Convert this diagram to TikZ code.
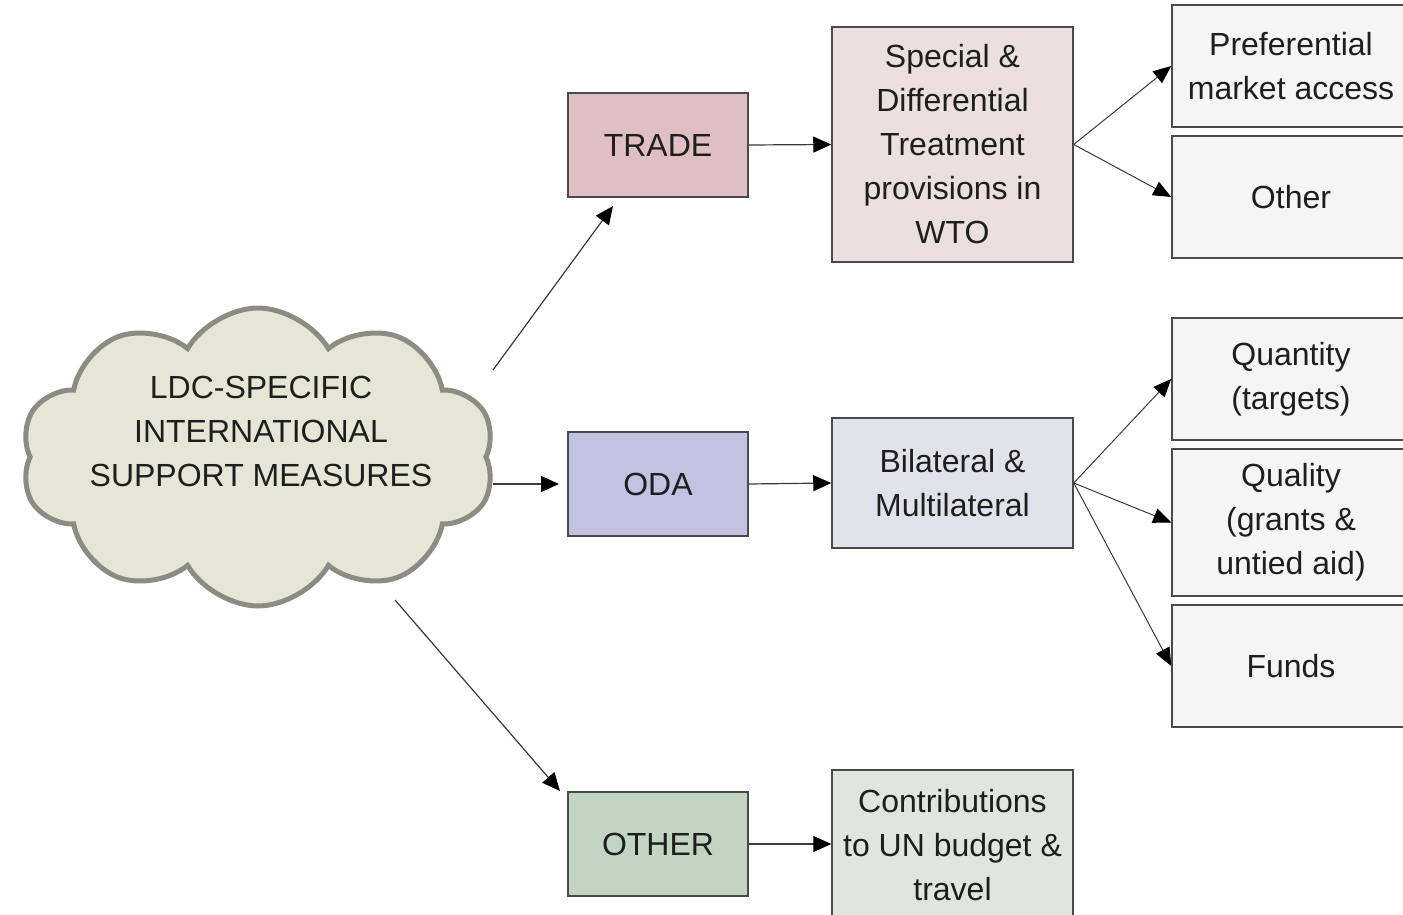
\documentclass[tikz,border=0pt]{standalone}
\usepackage{fontspec}
\setmainfont{Liberation Sans}
\usetikzlibrary{arrows.meta,shapes.symbols}
\definecolor{tradeF}{HTML}{E0BFC2}
\definecolor{sdF}{HTML}{EBDFDF}
\definecolor{odaF}{HTML}{C2C2E2}
\definecolor{bilF}{HTML}{E2E2EC}
\definecolor{othF}{HTML}{C2D5C3}
\definecolor{conF}{HTML}{E0E5DF}
\definecolor{leafF}{HTML}{F5F5F5}
\definecolor{cloudF}{HTML}{E5E6D5}
\definecolor{cloudD}{HTML}{8C8C84}
\definecolor{edgeD}{HTML}{4A4A4A}
\definecolor{lineD}{HTML}{3A3A3A}
\definecolor{txt}{HTML}{1E1E1E}
\begin{document}
\begin{tikzpicture}[x=1pt,y=-1pt,
  box/.style={draw=edgeD,line width=1.5pt,rectangle,inner sep=0pt,align=center,
    text=txt,font=\fontsize{32}{44}\selectfont},
  conn/.style={draw=lineD,line width=1.2pt,-{Triangle[length=18pt,width=16pt,color=black]}},
  fork/.style={draw=lineD,line width=1pt,-{Triangle[length=18pt,width=15pt,color=black]}}]
\useasboundingbox (0,0) rectangle (1403,915);
\fill[white] (0,0) rectangle (1403,915);
% cloud
\node[cloud,cloud puffs=10,cloud puff arc=120,aspect=1.58,draw=cloudD,fill=cloudF,
  line width=5pt,minimum width=474pt,minimum height=298pt,inner sep=0pt] (cloud) at (258,457) {};
\node[align=center,text=txt,font=\fontsize{32}{44}\selectfont] (cloudtxt) at (261,431)
  {LDC-SPECIFIC\\INTERNATIONAL\\SUPPORT MEASURES};
% level 1
\node[box,fill=tradeF,minimum width=180pt,minimum height=104pt] (trade) at (658,145) {TRADE};
\node[box,fill=odaF,minimum width=180pt,minimum height=104pt] (oda) at (658,484) {ODA};
\node[box,fill=othF,minimum width=180pt,minimum height=104pt] (other) at (658,844) {OTHER};
% level 2
\node[box,fill=sdF,minimum width=241pt,minimum height=235pt] (sd) at (952.5,144.5)
  {Special \&\\Differential\\Treatment\\provisions in\\WTO};
\node[box,fill=bilF,minimum width=241pt,minimum height=130pt] (bil) at (952.5,483)
  {Bilateral \&\\Multilateral};
\node[box,fill=conF,minimum width=241pt,minimum height=150pt] (con) at (952.5,845)
  {Contributions\\to UN budget \&\\travel};
% level 3
\node[box,fill=leafF,minimum width=238pt,minimum height=122pt] (pref) at (1291,66)
  {Preferential\\market access};
\node[box,fill=leafF,minimum width=238pt,minimum height=122pt] (oth2) at (1291,197) {Other};
\node[box,fill=leafF,minimum width=238pt,minimum height=122pt] (quan) at (1291,379)
  {Quantity\\(targets)};
\node[box,fill=leafF,minimum width=238pt,minimum height=147pt] (qual) at (1291,522.5)
  {Quality\\(grants \&\\untied aid)};
\node[box,fill=leafF,minimum width=238pt,minimum height=122pt] (funds) at (1291,666) {Funds};
% connector ends
\coordinate (c1) at (493,370);
\coordinate (t1) at (613,206);
\coordinate (c2) at (493,484);
\coordinate (o2) at (559,484);
\coordinate (c3) at (395,600);
\coordinate (o3) at (560,791);
\draw[conn] (c1) -- (t1);
\draw[conn] (c2) -- (o2);
\draw[conn] (c3) -- (o3);
\draw[conn] (trade.east) -- (sd.west);
\draw[conn] (oda.east) -- (bil.west);
\draw[conn] (other.east) -- (con.west |- other.east);
\draw[fork] (sd.east) -- (pref.west);
\draw[fork] (sd.east) -- (oth2.west);
\draw[fork] (bil.east) -- (quan.west);
\draw[fork] (bil.east) -- (qual.west);
\draw[fork] (bil.east) -- (funds.west);
\end{tikzpicture}
\end{document}
